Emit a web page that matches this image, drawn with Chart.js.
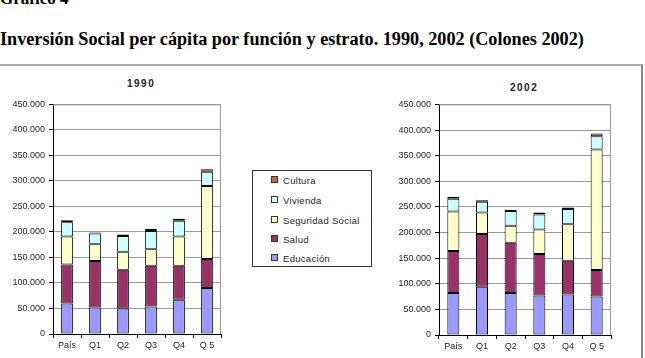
<!DOCTYPE html>
<html>
<head>
<meta charset="utf-8">
<script src="https://cdn.jsdelivr.net/npm/chart.js@4/dist/chart.umd.min.js"></script>
<style>
  body { margin: 0; width: 645px; height: 358px; background: #fff; overflow: hidden; position: relative; font-family: "Liberation Sans", Arial, sans-serif; }
  .heading { position: absolute; font-family: "Liberation Serif", "Times New Roman", serif; font-weight: bold; color: #000; white-space: nowrap; }
  #frame { position: absolute; left: -2px; top: 64px; width: 643px; height: 300px; border-top: 2px solid #aaa; border-right: 2px solid #888; }
  .ctitle { position: absolute; font-weight: bold; font-size: 10px; letter-spacing: 1.5px; color: #222; }
  .wrap { position: absolute; }
  #legend { position: absolute; left: 252px; top: 170px; width: 118px; height: 95px; border: 1px solid #333; font-size: 9.5px; color: #222; letter-spacing: 0.3px; }
  #legend div { position: absolute; left: 18px; height: 12px; line-height: 12px; white-space: nowrap; }
  #legend span { display: inline-block; width: 5px; height: 5px; border: 1px solid #333; margin-right: 5px; vertical-align: 1px; }
</style>
</head>
<body>
<div class="heading" style="left:0; top:-11px; font-size:17px;">Gráfico 4</div>
<div class="heading" style="left:0; top:29px; font-size:18.2px;">Inversión Social per cápita por función y estrato. 1990, 2002 (Colones 2002)</div>
<div id="frame"></div>
<div class="ctitle" style="left:127px; top:78px;">1990</div>
<div class="ctitle" style="left:510px; top:82px;">2002</div>
<div class="wrap" style="left:0; top:95px; width:230px; height:260px;"><canvas id="c1"></canvas></div>
<div class="wrap" style="left:386px; top:95px; width:234px; height:260px;"><canvas id="c2"></canvas></div>
<div id="legend"></div>

<script>
const categories = ["País", "Q1", "Q2", "Q3", "Q4", "Q 5"];
const seriesNames = ["Educación", "Salud", "Seguridad Social", "Vivienda", "Cultura"];
const seriesColors = ["#9999ff", "#993366", "#ffffcc", "#ccffff", "#cc6633"];

// 1990, colones 2002
const educacion1990 = [60000, 52000, 50000, 54000, 67000, 90000];
const salud1990 = [76000, 91000, 76000, 80000, 67000, 57000];
const seguridad1990 = [55000, 33000, 35000, 32000, 57000, 143000];
const vivienda1990 = [28000, 21000, 31000, 36000, 31000, 28000];
const cultura1990 = [4000, 2000, 3000, 4000, 4000, 5000];

// 2002
const educacion2002 = [82000, 94000, 82000, 77000, 79000, 75000];
const salud2002 = [82000, 103000, 98000, 81000, 66000, 52000];
const seguridad2002 = [77000, 42000, 33000, 48000, 71000, 235000];
const vivienda2002 = [25000, 21000, 29000, 29000, 30000, 26000];
const cultura2002 = [4000, 3000, 2000, 4000, 3000, 5000];

const yTicks = [0, 50000, 100000, 150000, 200000, 250000, 300000, 350000, 400000, 450000];

function fmt(v) {
    if (v === 0) return "0";
    return (v / 1000).toFixed(0) + ".000";
}

const frameBorder = {
    id: "frameBorder",
    beforeDatasetsDraw(chart) {
        const a = chart.chartArea;
        const c = chart.ctx;
        c.save();
        c.strokeStyle = "#999";
        c.lineWidth = 1;
        c.beginPath();
        c.moveTo(a.left, a.top + 0.5);
        c.lineTo(a.right - 0.5, a.top + 0.5);
        c.lineTo(a.right - 0.5, a.bottom);
        c.stroke();
        c.restore();
    }
};

function makeChart(id, data, padRight, xHeight) {
    const ctx = document.getElementById(id).getContext("2d");
    return new Chart(ctx, {
        type: "bar",
        data: {
            labels: categories,
            datasets: data.map((vals, i) => ({
                label: seriesNames[i],
                data: vals,
                backgroundColor: seriesColors[i],
                borderColor: "#000",
                borderWidth: 1,
                borderSkipped: false,
                barPercentage: 0.42,
                categoryPercentage: 1.0
            }))
        },
        options: {
            responsive: true,
            maintainAspectRatio: false,
            animation: false,
            layout: { padding: { top: 8, right: padRight, bottom: 0, left: 0 } },
            plugins: { legend: { display: false }, title: { display: false }, tooltip: { enabled: false } },
            scales: {
                x: {
                    stacked: true,
                    offset: true,
                    grid: { offset: true, drawOnChartArea: false, color: "#000", tickLength: 4 },
                    border: { color: "#000", width: 1 },
                    ticks: { color: "#222", font: { family: "Liberation Sans", size: 9 }, padding: 2, maxRotation: 0 },
                    afterFit(scale) { scale.height = xHeight; }
                },
                y: {
                    stacked: true,
                    min: 0,
                    max: 450000,
                    afterBuildTicks(scale) { scale.ticks = yTicks.map(v => ({ value: v })); },
                    grid: { color: "#999", tickColor: "#000", tickLength: 4 },
                    border: { color: "#000", width: 1 },
                    ticks: { color: "#222", font: { family: "Liberation Sans", size: 9 }, padding: 4, callback: v => fmt(v) },
                    afterFit(scale) { scale.width = 53; }
                }
            }
        },
        plugins: [frameBorder]
    });
}

makeChart("c1", [educacion1990, salud1990, seguridad1990, vivienda1990, cultura1990], 9, 21);
makeChart("c2", [educacion2002, salud2002, seguridad2002, vivienda2002, cultura2002], 9, 20);

const legend = document.getElementById("legend");
const legendTops = [4, 24, 44, 63, 82];
for (let i = seriesNames.length - 1; i >= 0; i--) {
    const item = document.createElement("div");
    item.style.top = legendTops[seriesNames.length - 1 - i] + "px";
    item.innerHTML = `<span style="background:${seriesColors[i]}"></span>${seriesNames[i]}`;
    legend.appendChild(item);
}
</script>
</body>
</html>
